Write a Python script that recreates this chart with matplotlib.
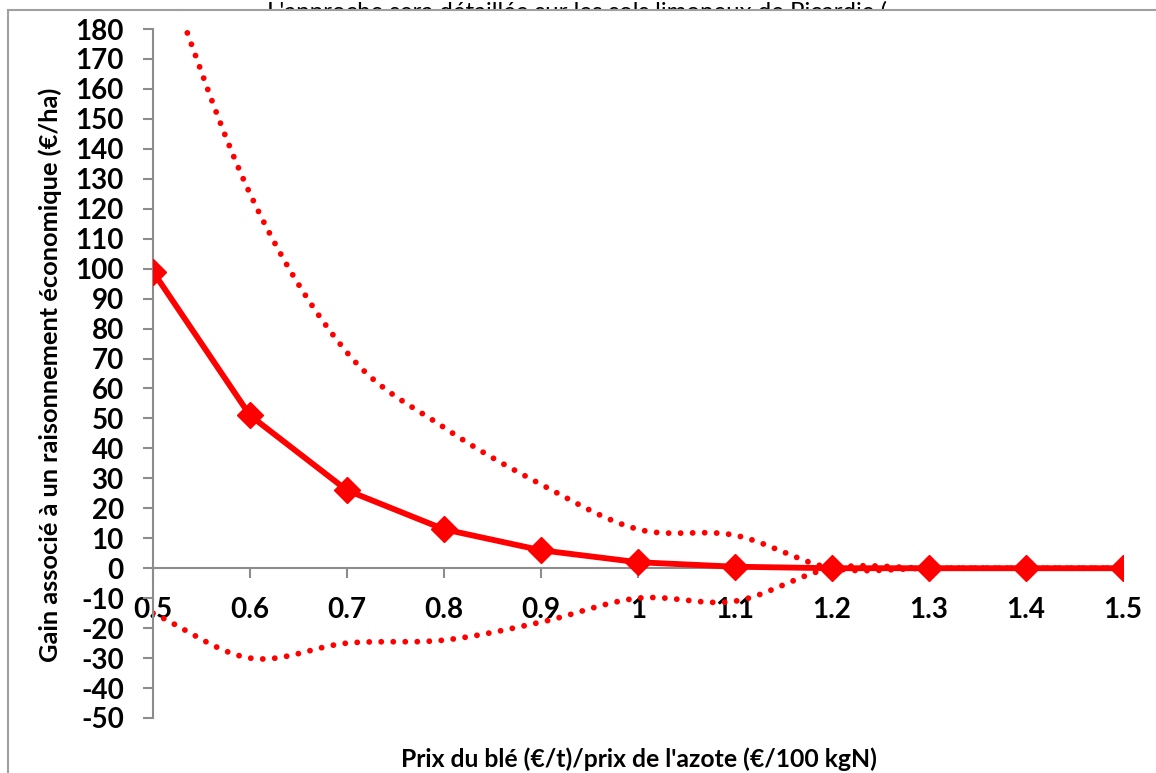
import numpy as np
import matplotlib
matplotlib.use("Agg")
import matplotlib.pyplot as plt
from matplotlib.lines import Line2D
from matplotlib.patches import Rectangle

plt.rcParams["axes.unicode_minus"] = False

# ratio prix blé / prix azote
ratios = [0.5, 0.6, 0.7, 0.8, 0.9, 1.0, 1.1, 1.2, 1.3, 1.4, 1.5]
tick_labels = ["0.5", "0.6", "0.7", "0.8", "0.9", "1", "1.1", "1.2", "1.3", "1.4", "1.5"]
# gain moyen (€/ha)
gain_mean = [99, 51, 26, 13, 6, 2, 0.5, 0, 0, 0, 0]
# bornes haute et basse
gain_high = [210, 125, 72, 47, 28, 13, 11, 0, 0, 0, 0]
gain_low = [-15, -30, -25, -24, -18, -10, -11, 0, 0, 0, 0]

red = "#ff0000"
gray = "#8c8c8c"
W, H = 1156, 773


def smooth(xs, ys, n=40):
    # courbe lissée type Excel (Catmull-Rom)
    x = np.asarray(xs, float)
    y = np.asarray(ys, float)
    px = np.concatenate([[2 * x[0] - x[1]], x, [2 * x[-1] - x[-2]]])
    py = np.concatenate([[2 * y[0] - y[1]], y, [2 * y[-1] - y[-2]]])
    out_x, out_y = [], []
    t = np.linspace(0, 1, n, endpoint=False)
    for i in range(1, len(px) - 2):
        p0x, p1x, p2x, p3x = px[i - 1:i + 3]
        p0y, p1y, p2y, p3y = py[i - 1:i + 3]
        c1x, c1y = p1x + (p2x - p0x) / 6, p1y + (p2y - p0y) / 6
        c2x, c2y = p2x - (p3x - p1x) / 6, p2y - (p3y - p1y) / 6
        b = [(1 - t) ** 3, 3 * (1 - t) ** 2 * t, 3 * (1 - t) * t ** 2, t ** 3]
        out_x.append(b[0] * p1x + b[1] * c1x + b[2] * c2x + b[3] * p2x)
        out_y.append(b[0] * p1y + b[1] * c1y + b[2] * c2y + b[3] * p2y)
    out_x.append([x[-1]])
    out_y.append([y[-1]])
    return np.concatenate(out_x), np.concatenate(out_y)


fig = plt.figure(figsize=(W / 100, H / 100), dpi=100)

# texte du document derrière le graphique
fig.text(577 / W, 1 - 19 / H, "L'approche sera détaillée sur les sols limoneux de Picardie (",
         ha="center", va="baseline", fontsize=17.3, family="Lato", zorder=0.5)
fig.patches.append(Rectangle((8 / W, 0), 1, 1 - 10 / H, transform=fig.transFigure,
                             facecolor="white", edgecolor="none", zorder=1))
fig.lines.append(Line2D([8 / W, 1], [1 - 10 / H, 1 - 10 / H], transform=fig.transFigure,
                        color="#a0a0a0", lw=1.5, zorder=3))
fig.lines.append(Line2D([8 / W, 8 / W], [0, 1 - 10 / H], transform=fig.transFigure,
                        color="#a0a0a0", lw=1.5, zorder=3))

ax = fig.add_axes([153 / W, 1 - 718 / H, (1123 - 153) / W, (718 - 29) / H])
ax.set_zorder(2)
ax.patch.set_visible(False)

hx, hy = smooth(ratios, gain_high)
lx, ly = smooth(ratios, gain_low)
dots = dict(color=red, lw=4.2, linestyle=(0, (0.01, 2.05)), dash_capstyle="round")
ax.plot(hx, hy, **dots)
ax.plot(lx, ly, **dots)
ax.plot(ratios, gain_mean, color=red, lw=4.2, marker="D", markersize=13, zorder=4)

ax.set_xlim(0.5, 1.5)
ax.set_ylim(-50, 180)
ax.set_yticks(range(-50, 181, 10))
ax.set_xticks(ratios)
ax.set_xticklabels(tick_labels)

for s in ["top", "right"]:
    ax.spines[s].set_visible(False)
ax.spines["bottom"].set_position(("data", 0))
ax.spines["left"].set_color(gray)
ax.spines["bottom"].set_color(gray)
ax.spines["left"].set_linewidth(1.5)
ax.spines["bottom"].set_linewidth(1.5)
ax.tick_params(axis="both", direction="out", length=7, width=1.5, color=gray, pad=14)
for lab in ax.get_xticklabels() + ax.get_yticklabels():
    lab.set_fontfamily("Lato")
    lab.set_fontweight("bold")
    lab.set_fontsize(20)

fig.text(50 / W, 1 - 375 / H, "Gain associé à un raisonnement économique (€/ha)",
         rotation=90, ha="center", va="center", fontsize=18.3, fontweight="bold",
         family="Lato", zorder=4)
fig.text(639 / W, 1 - 759 / H, "Prix du blé (€/t)/prix de l'azote (€/100 kgN)",
         ha="center", va="center", fontsize=17.8, fontweight="bold", family="Lato", zorder=4)

fig.savefig("out.png", dpi=100)
